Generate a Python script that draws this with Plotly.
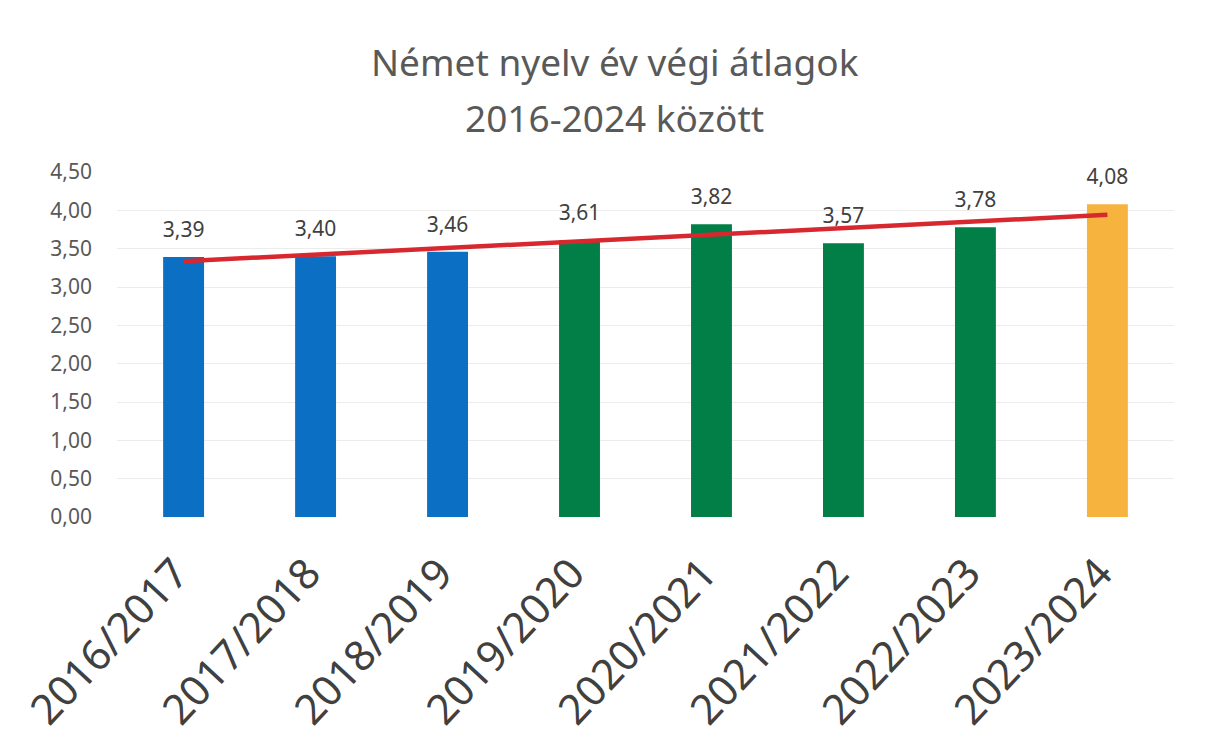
import numpy as np
import plotly.graph_objects as go

tanevek = ["2016/2017", "2017/2018", "2018/2019", "2019/2020",
           "2020/2021", "2021/2022", "2022/2023", "2023/2024"]
atlagok = [3.39, 3.40, 3.46, 3.61, 3.82, 3.57, 3.78, 4.08]
szinek = ["#0b6fc4"] * 3 + ["#017f47"] * 4 + ["#f6b43f"]

# linear trendline like Excel's
idx = np.arange(len(atlagok))
m, b = np.polyfit(idx, atlagok, 1)
trend = m * idx + b

fig = go.Figure()
fig.add_trace(go.Bar(x=tanevek, y=atlagok,
                     marker=dict(color=szinek, line_width=0),
                     width=0.31))
# data labels a bit above the bars
fig.add_trace(go.Scatter(x=tanevek, y=atlagok, mode="markers+text",
                         marker=dict(size=22, opacity=0),
                         texttemplate="%{y:.2f}", textposition="top center",
                         textfont=dict(size=21, color="#404040"),
                         cliponaxis=False))
fig.add_trace(go.Scatter(x=tanevek, y=trend, mode="lines",
                         line=dict(color="#d7282f", width=4.5)))

fig.update_layout(
    width=1205, height=751,
    separators=", ",
    font=dict(family="Noto Sans", color="#595959"),
    showlegend=False,
    plot_bgcolor="white", paper_bgcolor="white",
    margin=dict(l=109, r=39, t=164, b=242),
    annotations=[
        dict(text="Német nyelv év végi átlagok", xref="paper", yref="paper",
             x=0.471, y=1.319, xanchor="center", yanchor="middle",
             showarrow=False, font=dict(size=37, color="#595959")),
        dict(text="2016-2024 között", xref="paper", yref="paper",
             x=0.471, y=1.157, xanchor="center", yanchor="middle",
             showarrow=False, font=dict(size=37, color="#595959")),
    ],
)
fig.update_yaxes(range=[0, 4.5], dtick=0.5, tickformat=".2f",
                 gridcolor="#ececec", zeroline=False, automargin=False,
                 tickfont=dict(size=21, color="#595959"), ticklabelstandoff=24)
fig.update_xaxes(tickangle=-47, tickfont=dict(size=42, color="#404040"),
                 showgrid=False, showline=False, automargin=False,
                 ticklabelstandoff=22, ticklabelshift=-8)

fig.write_html("out.html")
